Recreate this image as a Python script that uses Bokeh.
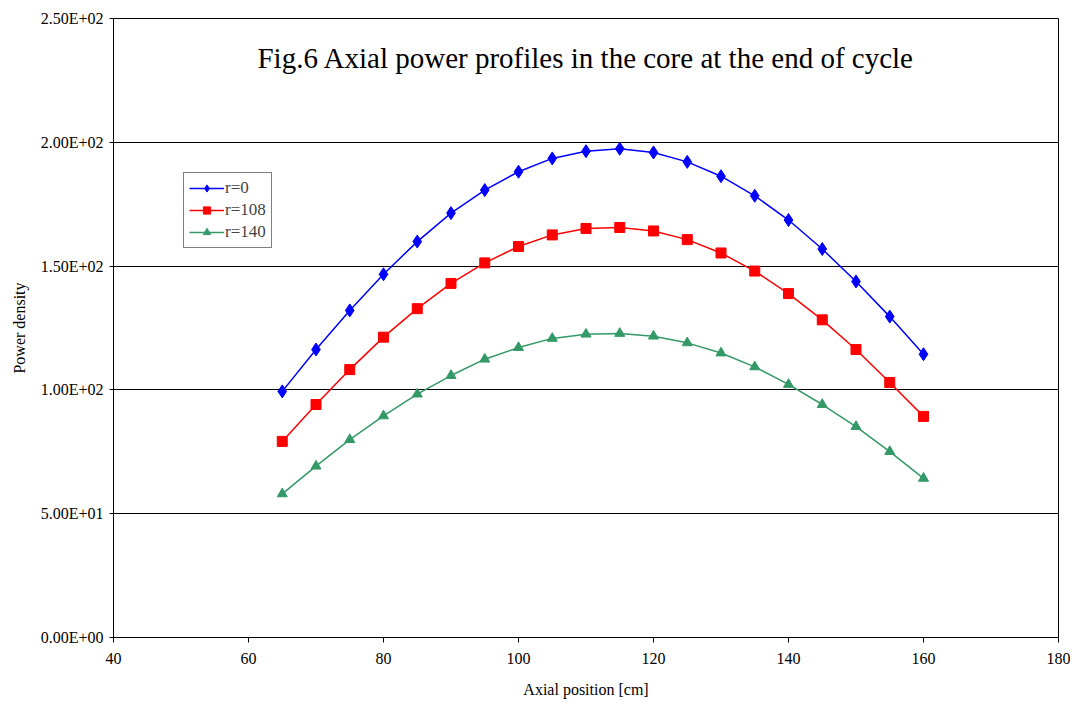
from bokeh.plotting import figure
from bokeh.models import FixedTicker, Label, Legend, LegendItem, Range1d
from bokeh.embed import file_html
from bokeh.resources import INLINE

positions = [65, 70, 75, 80, 85, 90, 95, 100, 105, 110, 115, 120, 125, 130, 135, 140, 145, 150, 155, 160]
r0 = [99.4, 116.3, 132.1, 146.7, 159.9, 171.4, 180.7, 188.1, 193.5, 196.4, 197.4, 195.9,
      192.1, 186.3, 178.4, 168.6, 156.9, 143.8, 129.6, 114.4]
r108 = [79.2, 94.1, 108.2, 121.3, 132.8, 143.0, 151.3, 157.9, 162.6, 165.2, 165.6, 164.2,
        160.7, 155.3, 148.0, 138.9, 128.3, 116.3, 103.0, 89.3]
r140 = [58.0, 69.2, 79.9, 89.5, 98.3, 105.8, 112.4, 117.1, 120.8, 122.5, 122.8, 121.7,
        119.0, 114.9, 109.3, 102.2, 94.1, 85.2, 75.1, 64.3]
series_names = ["r=0", "r=108", "r=140"]
y_ticks = [0, 50, 100, 150, 200, 250]
y_tick_labels = ["0.00E+00", "5.00E+01", "1.00E+02", "1.50E+02", "2.00E+02", "2.50E+02"]
x_ticks = [40, 60, 80, 100, 120, 140, 160, 180]
title_text = "Fig.6 Axial power profiles in the core at the end of cycle"

FONT = "Liberation Serif"

p = figure(width=1070, height=700, output_backend="svg", toolbar_location=None,
           x_range=Range1d(40, 180), y_range=Range1d(0, 250),
           min_border_left=113, min_border_right=12, min_border_top=18, min_border_bottom=63)
p.outline_line_color = "black"
p.outline_line_width = 1
p.background_fill_color = "white"

p.xgrid.grid_line_color = None
p.ygrid.grid_line_color = "black"
p.ygrid.grid_line_width = 1

p.xaxis.ticker = FixedTicker(ticks=x_ticks)
p.yaxis.ticker = FixedTicker(ticks=y_ticks)
p.yaxis.major_label_overrides = {t: l for t, l in zip(y_ticks, y_tick_labels)}
for ax in (p.xaxis, p.yaxis):
    ax.axis_line_color = "black"
    ax.major_tick_line_color = "black"
    ax.minor_tick_line_color = None
    ax.major_label_text_font = FONT
    ax.major_label_text_font_size = "16px"
    ax.major_label_text_color = "black"
    ax.axis_label_text_font = FONT
    ax.axis_label_text_font_size = "16px"
    ax.axis_label_text_font_style = "normal"
    ax.axis_label_text_color = "black"
p.xaxis.major_tick_in = 0
p.xaxis.major_tick_out = 5
p.yaxis.major_tick_in = 4
p.yaxis.major_tick_out = 4
p.xaxis.major_label_standoff = 10
p.yaxis.major_label_standoff = 6
p.xaxis.axis_label = "Axial position [cm]"
p.yaxis.axis_label = "Power density"
p.xaxis.axis_label_standoff = 14
p.yaxis.axis_label_standoff = 10

colors = ["#0000FF", "#FF0000", "#339966"]
markers = ["diamond", "square", "triangle"]
sizes = [13, 10, 10]
items = []
for ys, name, c, m, s in zip([r0, r108, r140], series_names, colors, markers, sizes):
    ln = p.line(positions, ys, line_color=c, line_width=1.5)
    sc = p.scatter(positions, ys, marker=m, size=s, fill_color=c, line_color=c)
    items.append(LegendItem(label=name, renderers=[ln, sc]))

legend = Legend(items=items, location=(70, 389))
legend.border_line_color = "black"
legend.border_line_width = 1
legend.background_fill_color = "white"
legend.background_fill_alpha = 1
legend.label_text_font = FONT
legend.label_text_font_size = "17px"
legend.glyph_width = 35
legend.glyph_height = 18
legend.label_height = 18
legend.spacing = 2
legend.padding = 5
legend.margin = 0
legend.label_standoff = 1
p.add_layout(legend, "center")

p.add_layout(Label(x=110, y=234, text=title_text, text_align="center", text_baseline="middle",
                   text_font=FONT, text_font_size="29px", text_color="black"))

open("out.html", "w").write(file_html(p, INLINE))
